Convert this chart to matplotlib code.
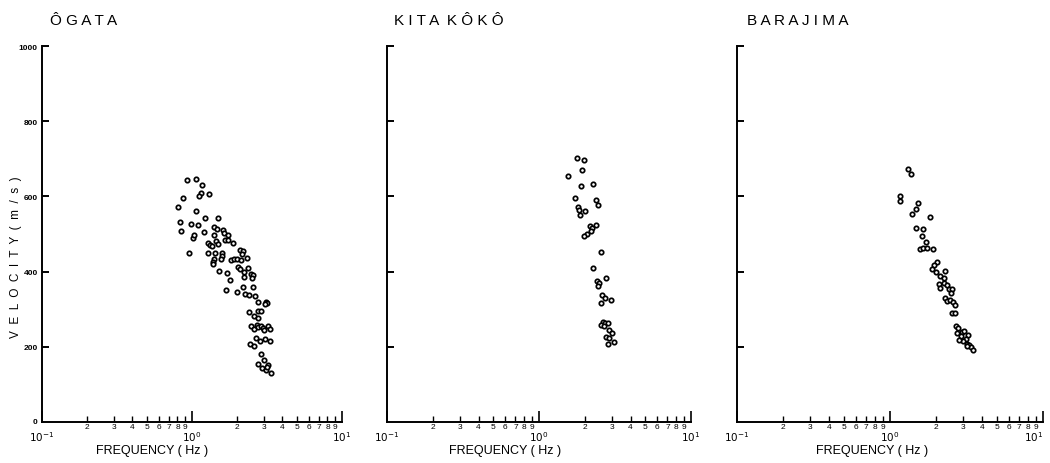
import matplotlib
matplotlib.use("Agg")
import matplotlib.pyplot as plt
from matplotlib.ticker import LogLocator, FuncFormatter
import numpy as np

plt.rcParams['font.family'] = ['Liberation Sans', 'DejaVu Sans']

titles = ["ÔGATA", "KITA KÔKÔ", "BARAJIMA"]

ogata_f = [0.93, 1.06, 1.17, 0.87, 0.81, 1.14, 1.12, 1.30, 1.07, 0.83, 0.85, 0.98, 1.10, 1.23,
           1.48, 1.21, 1.02, 1.03, 0.96, 1.40, 1.46, 1.41, 1.62, 1.63, 1.75, 1.28, 1.32, 1.35,
           1.45, 1.50, 1.67, 1.75, 1.88, 1.27, 1.43, 1.58, 1.59, 1.56, 1.40, 1.39, 1.38, 1.52,
           1.71, 1.80, 1.69, 1.82, 1.92, 2.00, 2.12, 2.34, 2.09, 2.20, 2.15, 2.04, 2.09, 2.23,
           2.38, 2.46, 2.54, 2.50, 2.21, 2.20, 2.54, 2.00, 2.26, 2.39, 2.62, 2.77, 3.10, 3.15,
           3.07, 2.41, 2.59, 2.77, 2.90, 2.74, 2.46, 2.59, 2.70, 2.75, 2.88, 2.99, 3.04, 3.23,
           3.31, 2.67, 2.84, 3.08, 3.31, 2.44, 2.60, 2.87, 3.04, 2.77, 3.19, 2.94, 3.10, 3.15, 3.34]
ogata_v = [644, 646, 631, 595, 571, 609, 600, 607, 561, 533, 509, 527, 524, 542,
           543, 506, 489, 497, 450, 518, 513, 497, 511, 503, 497, 476, 471, 467,
           482, 473, 485, 485, 476, 449, 449, 449, 441, 434, 434, 425, 419, 401,
           396, 377, 351, 431, 434, 434, 432, 435, 458, 455, 447, 413, 407, 400,
           409, 394, 392, 382, 386, 358, 360, 345, 340, 339, 336, 320, 320, 316,
           313, 293, 283, 296, 294, 276, 256, 247, 258, 252, 254, 249, 246, 256,
           247, 223, 216, 221, 215, 207, 201, 180, 165, 155, 152, 143, 139, 145, 130]

kita_f = [1.77, 1.99, 1.93, 1.54, 1.88, 2.28, 1.72, 2.36, 2.44, 1.80, 1.84, 2.01, 1.86, 2.37,
          2.17, 2.23, 2.21, 2.06, 1.98, 2.55, 2.28, 2.77, 2.40, 2.49, 2.46, 2.60, 2.70, 2.96,
          2.55, 2.62, 2.72, 2.86, 2.55, 2.68, 2.90, 3.01, 2.76, 2.90, 3.13, 2.84]
kita_v = [701, 698, 671, 653, 628, 633, 597, 590, 578, 571, 564, 562, 550, 525,
          522, 516, 509, 499, 495, 451, 410, 384, 375, 370, 362, 339, 331, 325,
          317, 265, 263, 263, 258, 256, 245, 238, 227, 224, 213, 207]

bara_f = [1.32, 1.37, 1.16, 1.16, 1.52, 1.49, 1.39, 1.82, 1.48, 1.65, 1.61, 1.73, 1.57, 1.65,
          1.75, 1.91, 2.04, 1.95, 1.89, 2.00, 2.30, 2.11, 2.24, 2.08, 2.12, 2.25, 2.35, 2.44,
          2.55, 2.52, 2.28, 2.36, 2.47, 2.59, 2.66, 2.55, 2.66, 2.70, 2.78, 2.74, 2.94, 3.05,
          2.90, 3.25, 3.14, 3.00, 2.84, 3.20, 3.30, 3.38, 3.49, 3.17]
bara_v = [672, 659, 600, 588, 582, 566, 552, 546, 517, 512, 496, 478, 460, 464,
          464, 461, 426, 418, 408, 398, 402, 387, 382, 366, 356, 370, 364, 355,
          354, 343, 330, 323, 325, 320, 312, 291, 289, 255, 251, 236, 240, 243,
          230, 231, 220, 216, 219, 207, 204, 199, 192, 201]

y_ticks = [0, 200, 400, 600, 800, 1000]
y_ticklabels = ["0", "200", "400", "600", "800", "1000"]
x_major = [0.1, 1, 10]
x_major_labels = [r"$10^{-1}$", r"$10^{0}$", r"$10^{1}$"]

series = [(ogata_f, ogata_v), (kita_f, kita_v), (bara_f, bara_v)]

fig = plt.figure(figsize=(10.5, 4.64), dpi=100)
lefts = [42 / 1050, 387 / 1050, 737 / 1050]
widths = [300 / 1050, 304 / 1050, 306 / 1050]
bottom = 1 - 423 / 464
height = 376 / 464

title_x = [50, 394, 747]
spaced_titles = ["Ô G A T A", "K I T A  K Ô K Ô", "B A R A J I M A"]
xlabel_cx = [152, 505, 872]

for i, (f, v) in enumerate(series):
    ax = fig.add_axes([lefts[i], bottom, widths[i], height])
    ax.scatter(f, v, s=10, facecolors='white', edgecolors='black', linewidths=1.25, zorder=3,
               clip_on=False)
    ax.set_xscale('log')
    ax.set_xlim(0.1, 10)
    ax.set_ylim(0, 1000)
    for s in ['top', 'right']:
        ax.spines[s].set_visible(False)
    for s in ['left', 'bottom']:
        ax.spines[s].set_linewidth(1.4)
        ax.spines[s].set_color('black')
    ax.set_yticks(y_ticks[1:])
    if i == 0:
        ax.set_yticklabels(y_ticklabels[1:], fontsize=6, fontweight='bold')
        fig.text(37 / 1050, 1 - 423 / 464, y_ticklabels[0], fontsize=6, fontweight='bold',
                 ha='right', va='center')
    else:
        ax.set_yticklabels([])
    ax.tick_params(axis='y', direction='in', length=5, width=1.4, pad=3)
    ax.set_xticks(x_major)
    ax.set_xticklabels(x_major_labels, fontsize=7.5)
    if i == 2:
        lbls = ax.get_xticklabels()
        lbls[-1].set_horizontalalignment('right')
    ax.xaxis.set_minor_locator(LogLocator(base=10, subs=np.arange(2, 10)))
    ax.xaxis.set_minor_formatter(FuncFormatter(
        lambda x, p: "%d" % round(x / 10 ** np.floor(np.log10(x) + 1e-9))))
    ax.tick_params(axis='x', which='major', direction='in', length=8, width=1.2, pad=5)
    ax.tick_params(axis='x', which='minor', direction='in', length=4, width=1.0, pad=1,
                   labelsize=6)
    fig.text(xlabel_cx[i] / 1050, 1 - 451 / 464, "FREQUENCY ( Hz )", fontsize=9,
             ha='center', va='center')
    fig.text(title_x[i] / 1050, 1 - 25 / 464, spaced_titles[i], fontsize=11,
             ha='left', va='baseline')

fig.text(16 / 1050, 1 - 257 / 464, "V  E  L  O  C  I  T  Y  (  m  /  s  )", rotation=90,
         fontsize=8.5, ha='center', va='center')

fig.savefig("out.png", dpi=100)
